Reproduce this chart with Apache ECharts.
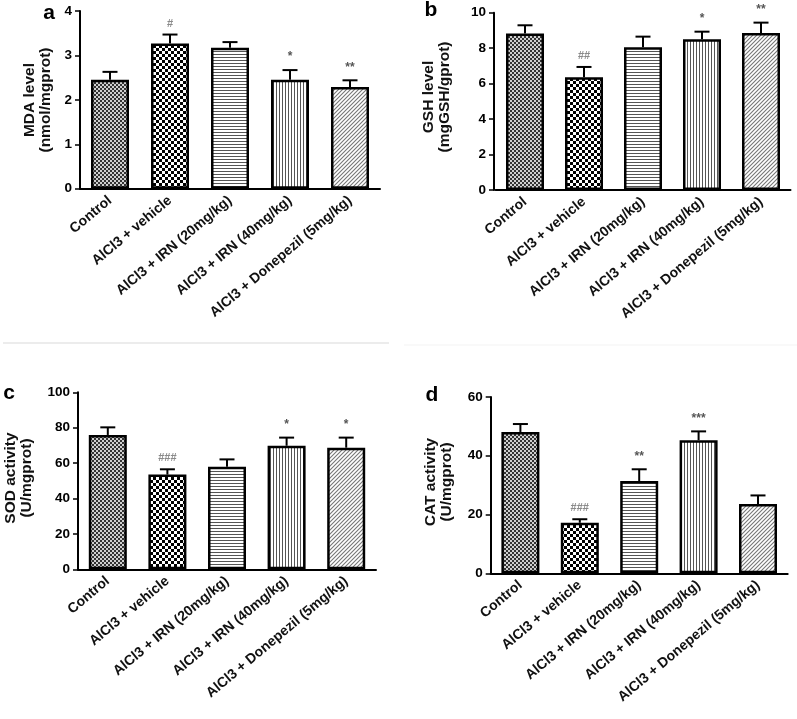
<!DOCTYPE html>
<html>
<head>
<meta charset="utf-8">
<script src="https://cdn.jsdelivr.net/npm/echarts@6/dist/echarts.min.js"></script>
<style>
html,body{margin:0;padding:0;background:#fff;}
#chart{width:797px;height:719px;}
</style>
</head>
<body>
<div id="chart"></div>
<script>
// ---- data ----
const categories = ['Control', 'AlCl3 + vehicle', 'AlCl3 + IRN (20mg/kg)', 'AlCl3 + IRN (40mg/kg)', 'AlCl3 + Donepezil (5mg/kg)'];

const mdaMean = [2.45, 3.27, 3.17, 2.45, 2.29];
const mdaSem  = [0.18, 0.20, 0.13, 0.22, 0.15];
const mdaSig  = ['', '#', '', '*', '**'];
const mdaTicks = [0, 4, 1];

const gshMean = [8.82, 6.36, 8.05, 8.50, 8.85];
const gshSem  = [0.47, 0.58, 0.60, 0.43, 0.59];
const gshSig  = ['', '##', '', '*', '**'];
const gshTicks = [0, 10, 2];

const sodMean = [75.9, 53.5, 58.0, 69.8, 68.7];
const sodSem  = [4.3, 3.0, 4.1, 4.6, 5.7];
const sodSig  = ['', '###', '', '*', '*'];
const sodTicks = [0, 100, 20];

const catMean = [48.1, 17.2, 31.4, 45.3, 23.6];
const catSem  = [2.7, 1.2, 4.0, 3.0, 2.9];
const catSig  = ['', '###', '**', '***', ''];
const catTicks = [0, 60, 20];

// ---- patterns ----
function makePattern(kind) {
  const c = document.createElement('canvas');
  const ctx = c.getContext('2d');
  if (kind === 'fine') {
    c.width = 4; c.height = 4;
    ctx.fillStyle = '#cfcfcf'; ctx.fillRect(0, 0, 4, 4);
    ctx.fillStyle = '#333333';
    ctx.fillRect(0, 0, 2, 2); ctx.fillRect(2, 2, 2, 2);
  } else if (kind === 'check') {
    c.width = 6; c.height = 6;
    ctx.fillStyle = '#ffffff'; ctx.fillRect(0, 0, 6, 6);
    ctx.fillStyle = '#000000';
    ctx.fillRect(0, 0, 3, 3); ctx.fillRect(3, 3, 3, 3);
  } else if (kind === 'hlines') {
    c.width = 3; c.height = 3;
    ctx.fillStyle = '#ffffff'; ctx.fillRect(0, 0, 3, 3);
    ctx.fillStyle = '#555555'; ctx.fillRect(0, 0, 3, 1);
  } else if (kind === 'vlines') {
    c.width = 3; c.height = 3;
    ctx.fillStyle = '#ffffff'; ctx.fillRect(0, 0, 3, 3);
    ctx.fillStyle = '#555555'; ctx.fillRect(0, 0, 1, 3);
  } else {
    c.width = 4; c.height = 4;
    ctx.fillStyle = '#ffffff'; ctx.fillRect(0, 0, 4, 4);
    ctx.strokeStyle = '#777777'; ctx.lineWidth = 1.1;
    ctx.beginPath();
    ctx.moveTo(-1, 5); ctx.lineTo(5, -1);
    ctx.moveTo(-1, 1); ctx.lineTo(1, -1);
    ctx.moveTo(3, 5); ctx.lineTo(5, 3);
    ctx.stroke();
  }
  return { image: c, repeat: 'repeat' };
}
const patterns = ['fine', 'check', 'hlines', 'vlines', 'diag'].map(makePattern);

const FONT = 'Liberation Sans, Arial, sans-serif';

const panels = [
  { mean: mdaMean, sem: mdaSem, sig: mdaSig, ticks: mdaTicks, grid: { left: 80, top: 11, width: 300, height: 177.7 } },
  { mean: gshMean, sem: gshSem, sig: gshSig, ticks: gshTicks, grid: { left: 495.5, top: 12.7, width: 295, height: 177.3 }, yOffset: 1.5 },
  { mean: sodMean, sem: sodSem, sig: sodSig, ticks: sodTicks, grid: { left: 78, top: 392.3, width: 298, height: 177 } },
  { mean: catMean, sem: catSem, sig: catSig, ticks: catTicks, grid: { left: 490.7, top: 397, width: 297, height: 176.3 } }
];

const grids = [], xAxes = [], yAxes = [], series = [];
panels.forEach((p, k) => {
  grids.push(p.grid);
  xAxes.push({
    type: 'category', gridIndex: k, data: categories,
    axisLine: { lineStyle: { color: '#000', width: 2 } },
    axisTick: { alignWithLabel: true, length: 5, lineStyle: { color: '#000', width: 1.5 } },
    axisLabel: { rotate: 40, interval: 0, margin: 10, fontFamily: FONT, fontSize: 14, fontWeight: 'bold', color: '#111' }
  });
  yAxes.push({
    type: 'value', gridIndex: k, min: p.ticks[0], max: p.ticks[1], interval: p.ticks[2],
    offset: p.yOffset || 0,
    splitLine: { show: false },
    axisLine: { show: true, lineStyle: { color: '#000', width: 2 } },
    axisTick: { show: true, length: 5, lineStyle: { color: '#000', width: 1.5 } },
    axisLabel: { fontFamily: FONT, fontSize: 13.5, fontWeight: 'bold', color: '#000', margin: 8 }
  });
  series.push({
    type: 'bar', xAxisIndex: k, yAxisIndex: k, barWidth: 38,
    data: p.mean.map((v, i) => ({ value: v, itemStyle: { color: patterns[i] } })),
    itemStyle: { borderColor: '#000', borderWidth: 2.5 },
    animation: false
  });
  const sig = p.sig;
  series.push({
    type: 'custom', xAxisIndex: k, yAxisIndex: k, z: 5,
    data: p.mean.map((v, i) => [i, v, v + p.sem[i]]),
    renderItem: function (params, api) {
      const i = api.value(0);
      const b = api.coord([i, api.value(1)]);
      const t = api.coord([i, api.value(2)]);
      const children = [
        { type: 'line', shape: { x1: b[0], y1: b[1], x2: t[0], y2: t[1] }, style: { stroke: '#000', lineWidth: 2 } },
        { type: 'line', shape: { x1: t[0] - 7.5, y1: t[1], x2: t[0] + 7.5, y2: t[1] }, style: { stroke: '#000', lineWidth: 2 } }
      ];
      const s = sig[params.dataIndex];
      if (s) {
        const isHash = s.charAt(0) === '#';
        children.push({
          type: 'text',
          style: {
            text: s, x: t[0], y: t[1] - (isHash ? 11 : 13), align: 'center', verticalAlign: 'middle',
            font: (isHash ? 'bold 11px ' : 'bold 12px ') + FONT,
            fill: isHash ? '#8a8a8a' : '#555'
          }
        });
      }
      return { type: 'group', children: children };
    },
    animation: false
  });
});

const letters = [['a', 49, 13], ['b', 431, 10], ['c', 9, 393], ['d', 432, 395]];
const yNames = [
  ['MDA level\n(nmol/mgprot)', 38, 100],
  ['GSH level\n(mgGSH/gprot)', 437, 97],
  ['SOD activity\n(U/mgprot)', 19, 478],
  ['CAT activity\n(U/mgprot)', 439, 482]
];
const graphic = [];
letters.forEach(l => graphic.push({
  type: 'text', x: l[1], y: l[2],
  style: { text: l[0], font: 'bold 21px ' + FONT, fill: '#000', align: 'center', verticalAlign: 'middle' }
}));
yNames.forEach(n => graphic.push({
  type: 'text', x: n[1], y: n[2], rotation: Math.PI / 2,
  style: { text: n[0], font: 'bold 15.5px ' + FONT, lineHeight: 16, fill: '#111', align: 'center', verticalAlign: 'middle' }
}));
graphic.push({ type: 'line', shape: { x1: 3, y1: 343, x2: 389, y2: 343 }, style: { stroke: '#e6e6e6', lineWidth: 1.5 } });
graphic.push({ type: 'line', shape: { x1: 404, y1: 345, x2: 797, y2: 345 }, style: { stroke: '#f3f3f3', lineWidth: 1 } });

const chart = echarts.init(document.getElementById('chart'), null, { renderer: 'canvas' });
chart.setOption({
  backgroundColor: '#fff',
  animation: false,
  grid: grids, xAxis: xAxes, yAxis: yAxes, series: series, graphic: graphic
});
</script>
</body>
</html>
